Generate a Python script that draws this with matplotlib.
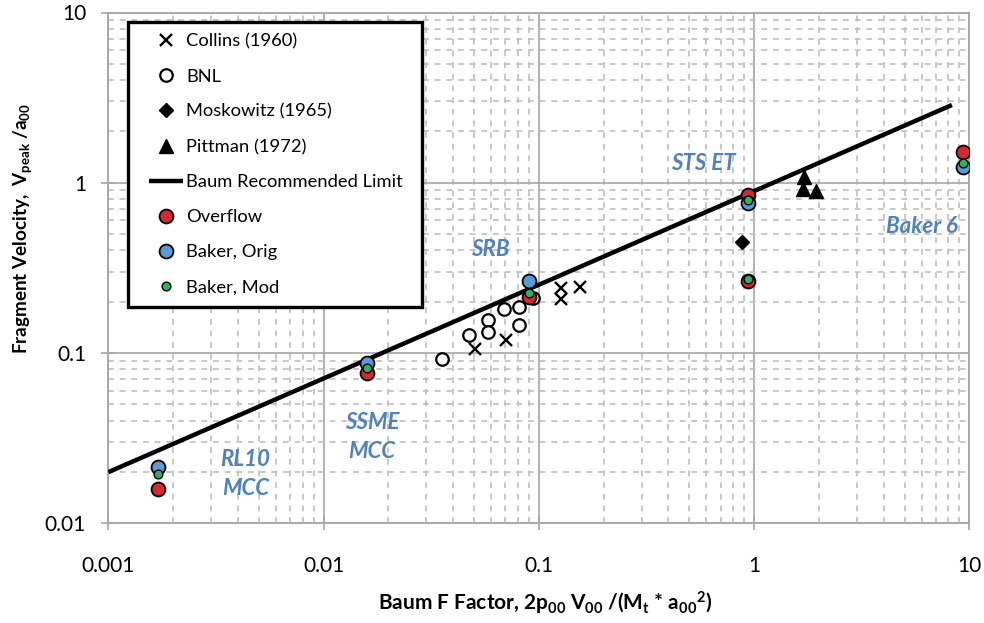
import matplotlib
matplotlib.use("Agg")
import matplotlib.pyplot as plt
from matplotlib.ticker import LogLocator, NullFormatter
from matplotlib.legend_handler import HandlerLine2D

plt.rcParams['font.family'] = ['Lato', 'DejaVu Sans']
plt.rcParams['mathtext.fontset'] = 'custom'
plt.rcParams['mathtext.rm'] = 'Lato'
plt.rcParams['mathtext.bf'] = 'Lato:bold'
plt.rcParams['mathtext.it'] = 'Lato:italic'

# ---- data ----
collins_f = [0.0505, 0.0702, 0.127, 0.127, 0.156]
collins_v = [0.106, 0.119, 0.240, 0.207, 0.243]

bnl_f = [0.0354, 0.0474, 0.0579, 0.0579, 0.0691, 0.0809, 0.0809, 0.0937]
bnl_v = [0.0917, 0.127, 0.156, 0.133, 0.182, 0.187, 0.146, 0.211]

moskowitz_f = [0.876]
moskowitz_v = [0.450]

pittman_f = [1.71, 1.68, 1.95]
pittman_v = [1.08, 0.915, 0.897]

baum_f = [0.001, 8.3]
baum_v = [0.0199, 2.86]

overflow_f = [0.0017, 0.0160, 0.0901, 0.934, 0.934, 9.38]
overflow_v = [0.0158, 0.0759, 0.214, 0.847, 0.264, 1.52]

baker_orig_f = [0.0017, 0.0160, 0.0901, 0.934, 9.38]
baker_orig_v = [0.0213, 0.0869, 0.264, 0.757, 1.24]

baker_mod_f = [0.0017, 0.0160, 0.0901, 0.934, 0.934, 9.38]
baker_mod_v = [0.0194, 0.0812, 0.224, 0.791, 0.271, 1.31]

x_ticks = [0.001, 0.01, 0.1, 1, 10]
x_tick_labels = ["0.001", "0.01", "0.1", "1", "10"]
y_ticks = [0.01, 0.1, 1, 10]
y_tick_labels = ["0.01", "0.1", "1", "10"]

region_labels = ["STS ET", "SRB", "Baker 6", "SSME\nMCC", "RL10\nMCC"]
region_f = [0.58, 0.0593, 6.03, 0.0168, 0.00433]
region_v = [1.29, 0.407, 0.55, 0.032, 0.0194]

# ---- figure ----
fig = plt.figure(figsize=(9.84, 6.23), dpi=100)
ax = fig.add_axes([108.3 / 984, 1 - 523 / 623, 861 / 984, 510.5 / 623])
ax.set_xscale('log')
ax.set_yscale('log')
ax.set_xlim(0.001, 10)
ax.set_ylim(0.01, 10)

ax.set_xticks(x_ticks, x_tick_labels)
ax.set_yticks(y_ticks, y_tick_labels)
ax.xaxis.set_minor_locator(LogLocator(base=10, subs=range(2, 10)))
ax.yaxis.set_minor_locator(LogLocator(base=10, subs=range(2, 10)))
ax.xaxis.set_minor_formatter(NullFormatter())
ax.yaxis.set_minor_formatter(NullFormatter())

ax.grid(which='major', color='#a6a6a6', lw=1.2, ls='-', zorder=0)
ax.grid(which='minor', color='#bfbfbf', lw=1.2, ls=(0, (3.5, 3.5)), zorder=0)
ax.set_axisbelow(True)

for s in ax.spines.values():
    s.set_color('#a6a6a6')
    s.set_linewidth(1.3)

ax.tick_params(which='major', direction='inout', length=10, width=1.2,
               color='#a6a6a6', labelsize=15, labelcolor='black')
ax.tick_params(axis='x', which='major', pad=19)
ax.tick_params(axis='y', which='major', pad=11)
ax.tick_params(which='minor', length=0)

ln_collins, = ax.plot(collins_f, collins_v, ls='none', marker='x', ms=8.5,
                      mew=1.7, color='black', label='Collins (1960)', zorder=3)
ln_bnl, = ax.plot(bnl_f, bnl_v, ls='none', marker='o', ms=9, mew=1.6,
                  mfc='white', mec='black', label='BNL', zorder=3)
ln_mosk, = ax.plot(moskowitz_f, moskowitz_v, ls='none', marker='D', ms=7.5,
                   color='black', label='Moskowitz (1965)', zorder=3)
ln_pitt, = ax.plot(pittman_f, pittman_v, ls='none', marker='^', ms=10,
                   color='black', label='Pittman (1972)', zorder=3)
ln_baum, = ax.plot(baum_f, baum_v, color='black', lw=3.2,
                   solid_capstyle='butt', label='Baum Recommended Limit', zorder=4)
ln_over, = ax.plot(overflow_f, overflow_v, ls='none', marker='o', ms=10,
                   mew=1.3, mfc='#d7282f', mec='black', label='Overflow', zorder=5)
ln_borig, = ax.plot(baker_orig_f, baker_orig_v, ls='none', marker='o', ms=10,
                    mew=1.3, mfc='#5b9bd5', mec='black', label='Baker, Orig', zorder=5)
ln_bmod, = ax.plot(baker_mod_f, baker_mod_v, ls='none', marker='o', ms=6.3,
                   mew=1.0, mfc='#2eb062', mec='black', label='Baker, Mod', zorder=6)

for txt, fx, vy in zip(region_labels, region_f, region_v):
    ax.text(fx, vy, txt, color='#4f81bd', fontsize=16, fontweight='bold',
            fontstyle='italic', ha='center', va='center', linespacing=1.5,
            zorder=2)

legend_handles = [ln_collins, ln_bnl, ln_mosk, ln_pitt, ln_baum,
                  ln_over, ln_borig, ln_bmod]
leg = ax.legend(handles=legend_handles,
                handler_map={h: HandlerLine2D(xpad=0.55) for h in legend_handles},
                loc='upper left',
                bbox_to_anchor=((128 - 108.3) / 861, (523 - 22) / 510.5,
                                (422 - 128) / 861, 0.0),
                mode='expand', fontsize=13.2, labelspacing=1.04,
                handlelength=2.4, handletextpad=0.16, borderpad=0.62,
                borderaxespad=0.0, fancybox=False, framealpha=1,
                edgecolor='black', numpoints=1)
leg.get_frame().set_linewidth(2.4)
leg.set_zorder(10)

ax.set_xlabel(r'Baum F Factor, 2p$_{\mathbf{00}}$ V$_{\mathbf{00}}$ /(M$_{\mathbf{t}}$ * a$_{\mathbf{00}}$$^{\mathbf{2}}$)',
              fontsize=15, fontweight='bold')
ax.xaxis.set_label_coords((545 - 108.3) / 861, -(590 - 523) / 510.5)
ax.set_ylabel(r'Fragment Velocity,  V$_{\mathbf{peak}}$ /a$_{\mathbf{00}}$',
              fontsize=13.6, fontweight='bold')
ax.yaxis.set_label_coords((34 - 108.3) / 861, (523 - 229) / 510.5)

fig.savefig('out.png', dpi=100)
